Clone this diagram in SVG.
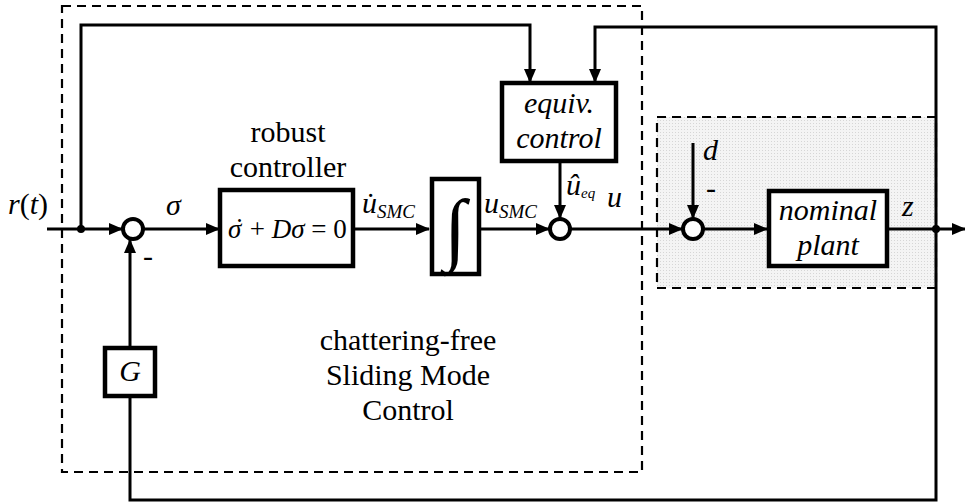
<svg xmlns="http://www.w3.org/2000/svg" width="965" height="503" viewBox="0 0 965 503">
<defs>
<marker id="ah" markerWidth="14" markerHeight="12" refX="13" refY="6" orient="auto" markerUnits="userSpaceOnUse">
<path d="M0,0 L14,6 L0,12 Z" fill="#000"/>
</marker>
<pattern id="dots" width="3" height="3" patternUnits="userSpaceOnUse">
<rect width="3" height="3" fill="#f4f4f4"/>
<rect width="1" height="1" fill="#d6d6d6"/>
</pattern>
</defs>
<style>
.dash{fill:none;stroke:#000;stroke-width:2.2;stroke-dasharray:9,6}
.blk{fill:#fff;stroke:#000;stroke-width:4.5}
.ln{fill:none;stroke:#000;stroke-width:3}
.sum{fill:#fff;stroke:#000;stroke-width:4}
</style>
<rect width="965" height="503" fill="#fff"/>
<g id="smc-boundary">
<rect class="dash" x="62" y="6" width="580" height="466"/>
</g>
<g id="plant-boundary">
<rect x="657" y="117" width="279" height="171" fill="url(#dots)"/>
<rect class="dash" x="657" y="117" width="279" height="171"/>
</g>
<g id="connectors">
<line class="ln" x1="47" y1="229" x2="122" y2="229" marker-end="url(#ah)"/>
<polyline class="ln" points="81,229 81,25 530,25 530,82" marker-end="url(#ah)"/>
<line class="ln" x1="143" y1="229" x2="219" y2="229" marker-end="url(#ah)"/>
<line class="ln" x1="355" y1="229" x2="429" y2="229" marker-end="url(#ah)"/>
<line class="ln" x1="481" y1="229" x2="549" y2="229" marker-end="url(#ah)"/>
<line class="ln" x1="560" y1="163" x2="560" y2="218" marker-end="url(#ah)"/>
<line class="ln" x1="570" y1="229" x2="682" y2="229" marker-end="url(#ah)"/>
<line class="ln" x1="693" y1="143" x2="693" y2="218" marker-end="url(#ah)"/>
<line class="ln" x1="704" y1="229" x2="767" y2="229" marker-end="url(#ah)"/>
<line class="ln" x1="889" y1="229" x2="965" y2="229" marker-end="url(#ah)"/>
<polyline class="ln" points="936,229 936,500 130,500 130,398"/>
<polyline class="ln" points="936,229 936,27 595,27 595,82" marker-end="url(#ah)"/>
<line class="ln" x1="130" y1="346" x2="130" y2="240" marker-end="url(#ah)"/>
<circle cx="81" cy="229" r="4" fill="#000"/>
<circle cx="936" cy="229" r="4" fill="#000"/>
</g>
<g id="sum1"><circle class="sum" cx="133" cy="229" r="10"/></g>
<g id="sum2"><circle class="sum" cx="560" cy="229" r="10"/></g>
<g id="sum3"><circle class="sum" cx="693" cy="229" r="10"/></g>
<g font-family="Liberation Serif, Times New Roman, serif" font-size="30" fill="#000">
<g id="robust-controller">
<rect class="blk" x="220" y="190" width="133" height="76"/>
<text x="288" y="142" text-anchor="middle">robust</text>
<text x="288" y="177" text-anchor="middle">controller</text>
<text x="228" y="238" font-size="27"><tspan font-style="italic">σ</tspan><tspan x="235" dy="-1">˙</tspan><tspan x="243" dy="1"> + </tspan><tspan font-style="italic">Dσ</tspan> = 0</text>
</g>
<g id="integrator">
<rect class="blk" x="432" y="179" width="47" height="95"/>
<text x="455" y="255" text-anchor="middle" font-size="80">∫</text>
</g>
<g id="equiv-control">
<rect class="blk" x="502" y="83" width="114" height="78"/>
<text x="559" y="113" text-anchor="middle" font-style="italic">equiv.</text>
<text x="559" y="148" text-anchor="middle" font-style="italic">control</text>
</g>
<g id="nominal-plant">
<rect class="blk" x="769" y="191" width="118" height="75"/>
<text x="828" y="220" text-anchor="middle" font-style="italic">nominal</text>
<text x="828" y="255" text-anchor="middle" font-style="italic">plant</text>
</g>
<g id="G">
<rect class="blk" x="105" y="348" width="50" height="48"/>
<text x="130" y="381" text-anchor="middle" font-style="italic">G</text>
</g>
<g id="labels">
<text x="8" y="214"><tspan font-style="italic">r</tspan>(<tspan font-style="italic">t</tspan>)</text>
<text x="166" y="215" font-style="italic">σ</text>
<text x="362" y="213" font-style="italic">u̇<tspan font-size="19" dy="5">SMC</tspan></text>
<text x="484" y="213" font-style="italic">u<tspan font-size="19" dy="5">SMC</tspan></text>
<text x="566" y="195" font-style="italic">û<tspan font-size="15" dy="3">eq</tspan></text>
<text x="607" y="207" font-style="italic">u</text>
<text x="703" y="160" font-style="italic">d</text>
<text x="706" y="198">-</text>
<text x="902" y="216" font-style="italic">z</text>
<text x="143" y="266">-</text>
<text x="408" y="350" text-anchor="middle">chattering-free</text>
<text x="408" y="385" text-anchor="middle">Sliding Mode</text>
<text x="408" y="420" text-anchor="middle">Control</text>
</g>
</g>
</svg>
